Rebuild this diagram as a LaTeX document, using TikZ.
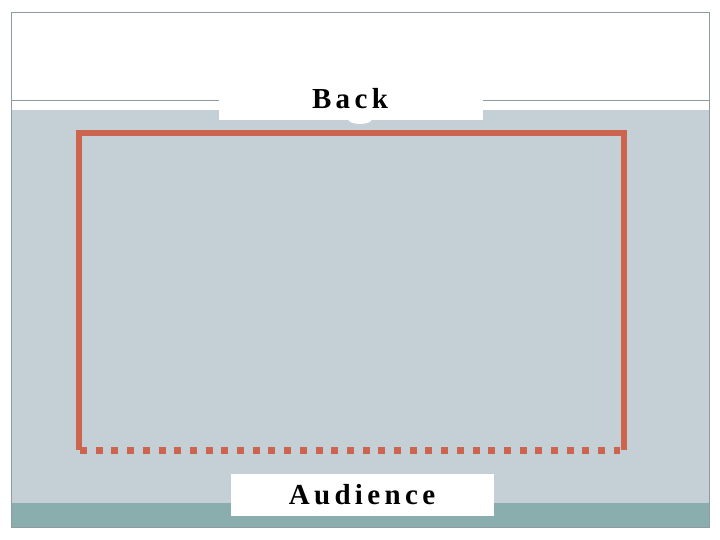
\documentclass[tikz,border=0pt]{standalone}
\usepackage{fontspec}
\setmainfont{Liberation Serif}
\newfontfamily\labelfont[LetterSpace=15]{Liberation Serif}
\definecolor{stagegrey}{RGB}{197,208,214}
\definecolor{bandteal}{RGB}{138,173,173}
\definecolor{framegrey}{RGB}{140,156,160}
\definecolor{stagered}{RGB}{205,100,78}
\tikzset{
  labelbox/.style={fill=white, inner sep=0pt},
  labeltext/.style={inner sep=0pt, font=\labelfont\bfseries\fontsize{29}{29}\selectfont},
  redline/.style={draw=stagered, line width=6pt},
  reddots/.style={draw=stagered, line width=7pt, dash pattern=on 7pt off 8.7pt}
}
\begin{document}
\begin{tikzpicture}[x=1pt,y=-1pt]
\useasboundingbox (0,0) rectangle (720,540);
\fill[white] (0,0) rectangle (720,540);
% slide areas
\fill[stagegrey] (11,110) rectangle (709,527);
\fill[bandteal] (11,503) rectangle (709,527);
\draw[framegrey, line width=0.8pt] (11,12) rectangle (709,527);
\draw[framegrey, line width=0.8pt] (11,100) -- (709,100);
% back label
\fill[white] (360,119) ellipse (12 and 5);
\node[labelbox, minimum width=264pt, minimum height=40pt] (back) at (351,100) {};
\node[labeltext] (backtext) at (350,99) {Back};
% stage outline
\coordinate (tl) at (79,133);
\coordinate (tr) at (624,133);
\coordinate (bl) at (79,450);
\coordinate (br) at (624,450);
\draw[redline] (76,133) -- (627,133);
\draw[redline] (tl) -- (bl);
\draw[redline] (tr) -- (br);
\draw[reddots] (80,450) -- (620,450);
% audience label
\node[labelbox, minimum width=263pt, minimum height=42pt] (aud) at (362.5,495) {};
\node[labeltext] (audtext) at (362,495) {Audience};
\end{tikzpicture}
\end{document}
